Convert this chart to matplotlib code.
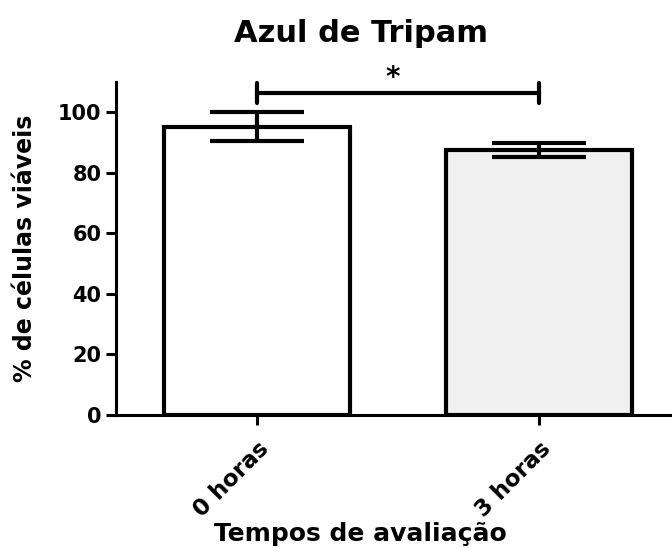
import matplotlib.pyplot as plt

plt.rcParams["font.family"] = ["DejaVu Sans"]
plt.rcParams["font.weight"] = "bold"

# data
groups = ["0 horas", "3 horas"]
means = [95.2, 87.6]
errors = [4.8, 2.3]
fills = ["white", "#f0f0f0"]
y_ticks = [0, 20, 40, 60, 80, 100]

fig = plt.figure(figsize=(6.72, 5.48), dpi=100)
ax = fig.add_axes([0.1726, 0.2427, 0.839, 0.608])

x = range(len(groups))
ax.bar(x, means, width=0.66, color=fills, edgecolor="black", linewidth=3, zorder=2)
ax.errorbar(x, means, yerr=errors, fmt="none", ecolor="black", elinewidth=3,
            capsize=34, capthick=3, zorder=3)

# significance bracket
sig_y = 106.4
ax.plot([0, 1], [sig_y, sig_y], color="black", lw=3, clip_on=False)
for xi in x:
    ax.plot([xi, xi], [103.0, 109.6], color="black", lw=3,
            solid_capstyle="round", clip_on=False)
ax.text(0.48, 111.3, "*", ha="center", va="center", fontsize=20,
        fontweight="bold", clip_on=False)

ax.set_xlim(-0.5, 1.5)
ax.set_ylim(0, 110)
ax.set_yticks(y_ticks)
ax.set_xticks(list(x))
ax.set_xticklabels(groups, rotation=45, ha="right", rotation_mode="anchor")

for side in ["top", "right"]:
    ax.spines[side].set_visible(False)
for side in ["left", "bottom"]:
    ax.spines[side].set_linewidth(2.2)

ax.tick_params(axis="both", width=2.2, length=7, labelsize=15)
ax.tick_params(axis="x", pad=9, labelsize=16.5)

ax.set_title("Azul de Tripam", fontsize=22, fontweight="bold", x=0.434, y=1.12, pad=0)
ax.set_xlabel("Tempos de avaliação", fontsize=18, fontweight="bold")
ax.xaxis.set_label_coords(0.434, -0.322)
ax.set_ylabel("% de células viáveis", fontsize=17, fontweight="bold")
ax.yaxis.set_label_coords(-0.14, 0.5)

plt.savefig("out.png", dpi=100)
plt.close()
